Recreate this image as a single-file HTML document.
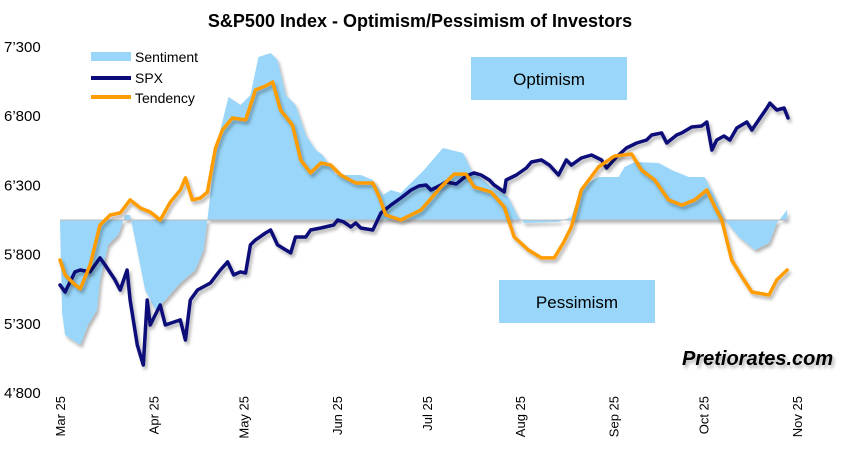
<!DOCTYPE html>
<html><head><meta charset="utf-8">
<style>
body{margin:0;background:#fff;}
svg{display:block;font-family:"Liberation Sans",sans-serif;}
</style></head>
<body>
<svg id="chart" width="852" height="460" viewBox="0 0 852 460">
<defs>
<filter id="sh" x="-5%" y="-5%" width="110%" height="115%"><feDropShadow dx="2" dy="3" stdDeviation="1.5" flood-color="#000" flood-opacity="0.3"/></filter>
</defs>
<rect width="852" height="460" fill="#fff"/>
<text x="420" y="27" text-anchor="middle" font-size="18" font-weight="bold" fill="#000">S&amp;P500 Index - Optimism/Pessimism of Investors</text>
<g id="yaxis"></g>
<g id="xaxis"></g>
<g id="plot"></g>
<rect x="471" y="57" width="156" height="43" fill="#99d6f9"/>
<text x="549" y="85" text-anchor="middle" font-size="17" fill="#000">Optimism</text>
<rect x="499" y="280" width="156" height="43" fill="#99d6f9"/>
<text x="577" y="308" text-anchor="middle" font-size="17" fill="#000">Pessimism</text>
<text x="682" y="365" font-size="20" font-weight="bold" font-style="italic" fill="#000" filter="url(#sh)">Pretiorates.com</text>
<g>
<rect x="91" y="52" width="40" height="9" fill="#99d6f9"/>
<text x="135" y="62" font-size="14">Sentiment</text>
<line x1="91" y1="78" x2="131" y2="78" stroke="#0a0a7a" stroke-width="4"/>
<text x="135" y="83" font-size="14">SPX</text>
<line x1="91" y1="97" x2="131" y2="97" stroke="#ff9c00" stroke-width="4"/>
<text x="135" y="103" font-size="14">Tendency</text>
</g>
</svg>
<script>
const yTicks=[7300,6800,6300,5800,5300,4800];
const yTickLabels=["7’300","6’800","6’300","5’800","5’300","4’800"];
const monthDays=[0,31,61,92,122,153,184,214,245];
const monthLabels=["Mar 25","Apr 25","May 25","Jun 25","Jul 25","Aug 25","Sep 25","Oct 25","Nov 25"];
const baseline=6050;
const spxDays=[0,1.7,5,6.7,10,13.3,15,18.3,20,22.3,23.3,25.7,27.7,29,30,33.3,35,40,41.7,43.3,45.7,50,53.3,55.7,57.7,60,61.7,63.3,65,68.3,70,72.3,76.7,78.3,81.7,83.3,86.7,91,92.3,94.3,96.7,98.3,100,104,106.7,110,113.3,116.7,119.3,121.7,123.3,126.7,128.3,131.7,135,137.7,140,142.7,144.3,147.7,148.3,151.7,155,156.7,160,162.7,165.7,168.3,170,173.3,176.7,180,181.7,185,188.3,191.7,195,196.7,200,201.7,205,206.7,210,213.3,215,216.7,218.3,220.7,222.7,225,228.3,230,232.7,235,236,238.3,240.7,242];
const spxValues=[5580,5530,5675,5689,5675,5776,5725,5617,5544,5689,5472,5147,5002,5472,5291,5436,5291,5328,5183,5472,5544,5595,5689,5747,5653,5675,5667,5870,5906,5956,5978,5870,5812,5927,5927,5978,5992,6014,6050,6036,6000,6028,5992,5978,6101,6158,6209,6267,6296,6303,6267,6303,6325,6310,6368,6390,6375,6339,6303,6252,6339,6375,6426,6469,6484,6447,6375,6484,6447,6498,6520,6484,6426,6505,6570,6606,6628,6664,6679,6606,6664,6679,6722,6729,6758,6556,6628,6657,6628,6715,6758,6700,6787,6859,6895,6845,6859,6787];
const tendDays=[0,1.7,4,6.7,10,13.3,16.7,20,23.3,26.7,30,33.3,36.7,40,41.7,44,46.7,49,51.7,54,57.3,61.7,65,68.3,70.7,73.3,77.3,80,83.3,86.7,90,93.3,98.3,104,106,108.3,113.3,120,126.7,131,135,137.7,143.3,147.7,151,155.7,160,164.3,167.3,170,173.3,179,184.3,190,193.3,197.7,202.3,206.7,211,215,217.7,220,223.3,226.7,230,235.7,238.3,241.7];
const tendValues=[5761,5653,5602,5552,5725,6014,6086,6101,6195,6137,6108,6050,6180,6267,6354,6195,6209,6252,6570,6700,6787,6773,6989,7018,7047,6845,6736,6484,6390,6462,6447,6375,6317,6317,6223,6086,6050,6122,6289,6382,6382,6289,6252,6144,5927,5833,5776,5776,5884,6000,6267,6433,6512,6527,6411,6339,6195,6158,6195,6267,6144,6050,5761,5638,5530,5508,5617,5689];
const sentDays=[0,0.7,1.7,6.7,9.3,12.3,13.3,16,19.3,21.7,23.3,25,28.3,31.7,35,40,45,47.7,49,50.7,53.3,56,60,63.3,66,70,72.3,75,78.3,81.7,85,87.3,91.7,100,104,107.3,110,113.3,121,127.3,134,136.7,143.3,149,152.3,154.3,165.7,170,173.3,179,185.7,187.7,191,199,203.3,209,214.3,217.7,221,225.7,231,235.7,238.3,241.7];
const sentValues=[6050,5378,5219,5147,5291,5400,5617,5870,5942,6086,6086,5906,5544,5400,5472,5595,5689,5833,6050,6375,6700,6939,6881,6953,7228,7257,7206,6953,6881,6664,6556,6520,6375,6375,6339,6231,6267,6245,6411,6570,6534,6411,6289,6216,6072,6028,6036,6072,6289,6361,6361,6433,6469,6462,6411,6361,6361,6216,6050,5927,5833,5884,6028,6122];

const NS="http://www.w3.org/2000/svg";
const x0=60,x1=797,y0=47,y1=393;
const xs=d=>x0+(d-monthDays[0])*(x1-x0)/(monthDays[monthDays.length-1]-monthDays[0]);
const ys=v=>y0+(7300-v)*(y1-y0)/(7300-4800);
function mk(tag,attrs,parent){const e=document.createElementNS(NS,tag);for(const k in attrs)e.setAttribute(k,attrs[k]);parent.appendChild(e);return e;}
const yax=document.getElementById('yaxis'),xax=document.getElementById('xaxis'),plot=document.getElementById('plot');
yTicks.forEach((v,i)=>{const t=mk('text',{x:4,y:ys(v)+5,'font-size':15,fill:'#000'},yax);t.textContent=yTickLabels[i];

});
monthDays.forEach((d,i)=>{const x=xs(d);const t=mk('text',{x:0,y:0,'font-size':13,fill:'#000','text-anchor':'end',transform:`translate(${x+5},396) rotate(-90)`},xax);t.textContent=monthLabels[i];

});
// sentiment area
let d='M'+xs(sentDays[0])+','+ys(baseline);
sentDays.forEach((dd,i)=>{d+=' L'+xs(dd).toFixed(1)+','+ys(sentValues[i]).toFixed(1);});
d+=' L'+xs(sentDays[sentDays.length-1]).toFixed(1)+','+ys(baseline)+' Z';
const area=mk('path',{d:d,fill:'#99d6f9',filter:'url(#sh)'},plot);


const bl=mk('line',{x1:xs(0),x2:xs(sentDays[sentDays.length-1]),y1:ys(baseline),y2:ys(baseline),stroke:'#bbb','stroke-width':1},plot);


function line(days,vals,color,name){const p=days.map((dd,i)=>xs(dd).toFixed(1)+','+ys(vals[i]).toFixed(1)).join(' ');
const e=mk('polyline',{points:p,fill:'none',stroke:color,'stroke-width':3.5,'stroke-linejoin':'round','stroke-linecap':'round',filter:'url(#sh)'},plot);

}
line(spxDays,spxValues,'#0a0a7a','spx-line');
line(tendDays,tendValues,'#ff9c00','tendency-line');
</script>
</body></html>
